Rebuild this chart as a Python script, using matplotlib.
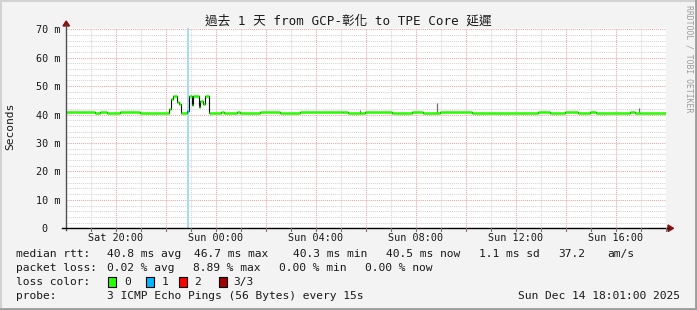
import matplotlib
matplotlib.use("Agg")
import matplotlib.pyplot as plt
from matplotlib.patches import Polygon, Rectangle
from matplotlib.lines import Line2D

W, H = 697, 310
MONO = "DejaVu Sans Mono"
TITLE_FONT = ["DejaVu Sans Mono", "Noto Sans CJK TC"]

# time axis in hours since Sat 18:00, graph covers 18:01 -> 18:01 next day
t_start = 1 / 60
t_end = 24 + 1 / 60

# median rtt (ms) as step segments: start hour, value, lost pings
seg_start = [0.02, 1.17, 1.37, 1.64, 2.17, 2.97, 4.12, 4.20, 4.28, 4.44, 4.52, 4.60,
             4.85, 4.93, 5.05, 5.10, 5.33, 5.37, 5.50, 5.58, 5.74, 6.20, 6.34, 6.85,
             6.97, 7.77, 8.57, 9.37, 11.10, 11.30, 11.77, 11.97, 13.04, 13.84, 14.30,
             14.97, 16.24, 18.90, 19.37, 19.97, 20.50, 20.97, 21.23, 22.57, 22.77, 22.97]
seg_rtt = [40.8, 40.5, 40.8, 40.5, 40.8, 40.5, 41.9, 45.6, 46.6, 44.6, 43.8, 40.5,
           41.3, 46.6, 43.4, 46.6, 42.8, 44.8, 43.6, 46.5, 40.5, 40.8, 40.5, 40.8,
           40.6, 40.8, 40.5, 40.8, 41.0, 40.5, 40.7, 40.8, 40.6, 40.8, 40.5,
           40.8, 40.5, 40.8, 40.5, 40.8, 40.5, 40.8, 40.5, 40.8, 40.5, 40.7]
seg_loss = [0, 0, 0, 0, 0, 0, 0, 0, 0, 0, 0, 0,
            1, 0, 0, 0, 0, 0, 0, 0, 0, 0, 0, 0,
            0, 0, 0, 0, 0, 0, 0, 0, 0, 0, 0,
            0, 0, 0, 0, 0, 0, 0, 0, 0, 0, 0]

# a few visible smoke spikes (max ping above the median)
smoke_t = [2.21, 11.77, 14.84, 21.10, 22.93]
smoke_lo = [40.8, 40.7, 40.5, 40.8, 40.5]
smoke_hi = [41.3, 41.5, 44.0, 41.3, 42.3]

loss_colors = ["#26ff00", "#00b8ff", "#ff0000", "#a00000"]
loss_labels = ["0", "1", "2", "3/3"]
loss_band_color = "#a6dcf6"

x_ticks = [2, 6, 10, 14, 18, 22]
x_labels = ["Sat 20:00", "Sun 00:00", "Sun 04:00", "Sun 08:00", "Sun 12:00", "Sun 16:00"]
y_ticks = [0, 10, 20, 30, 40, 50, 60, 70]
y_labels = ["0  ", "10 m", "20 m", "30 m", "40 m", "50 m", "60 m", "70 m"]

title = "過去 1 天 from GCP-彰化 to TPE Core 延遲"
rtt_row = [(16, "median rtt:"), (107, "40.8 ms avg"), (194, "46.7 ms max"),
           (293, "40.3 ms min"), (386, "40.5 ms now"), (479, "1.1 ms sd"),
           (558, "37.2"), (607, "am/s")]
loss_row = [(16, "packet loss:"), (107, "0.02 % avg"), (193, "8.89 % max"),
            (279, "0.00 % min"), (365, "0.00 % now")]
box_x = [108, 146, 179, 219]
box_label_x = [124, 162, 194, 233]
probe_text = "3 ICMP Echo Pings (56 Bytes) every 15s"
stamp = "Sun Dec 14 18:01:00 2025"


def fx(x):
    return x / W


def fy(y):
    return 1 - y / H


fig = plt.figure(figsize=(W / 100, H / 100), dpi=100, facecolor="#f3f3f3")

# 3d-ish frame around the canvas
fig.add_artist(Line2D([0, 1], [fy(1), fy(1)], color="#d2d2d2", lw=1.5))
fig.add_artist(Line2D([fx(1), fx(1)], [0, 1], color="#d2d2d2", lw=1.5))
fig.add_artist(Line2D([0, 1], [fy(309), fy(309)], color="#9c9c9c", lw=2))
fig.add_artist(Line2D([fx(696), fx(696)], [0, 1], color="#9c9c9c", lw=2))

x0, x1, ybot, ytop = 66.1, 666.1, 228.3, 28.3
ax = fig.add_axes([fx(x0), fy(ybot), (x1 - x0) / W, (ybot - ytop) / H])
ax.set_facecolor("white")
ax.set_xlim(t_start, t_end)
ax.set_ylim(0, 70.35)
for s in ax.spines.values():
    s.set_visible(False)

# grid: 1h / 2ms minor in gray, 2h / 10ms major in pink
dot = (0, (1, 1))
for h in range(1, 25):
    col = "#e8a4a4" if h % 2 == 0 else "#d4d4d4"
    ax.axvline(h, color=col, lw=0.75, ls=dot, zorder=1)
for v in range(2, 71, 2):
    col = "#e8a4a4" if v % 10 == 0 else "#d4d4d4"
    ax.axhline(v, color=col, lw=0.75, ls=dot, zorder=1)

# loss band
for i, loss in enumerate(seg_loss):
    if loss > 0:
        ax.axvspan(seg_start[i], seg_start[i + 1], color=loss_band_color, lw=0, zorder=2)

# smoke
ax.vlines(smoke_t, smoke_lo, smoke_hi, color="#6e6e6e", lw=0.9, zorder=3)

# median: black step transitions, coloured horizontal parts
ends = seg_start[1:] + [t_end]
ax.step(seg_start + [t_end], seg_rtt + [seg_rtt[-1]], where="post", color="#111111", lw=0.8, zorder=3)
for s0, s1, v, loss in zip(seg_start, ends, seg_rtt, seg_loss):
    ax.hlines(v, s0, s1, color=loss_colors[loss], lw=1.8, zorder=4)

ax.set_xticks(x_ticks, x_labels)
ax.set_yticks(y_ticks, y_labels)
ax.tick_params(axis="x", length=0, pad=3.5, labelsize=7.3, labelcolor="#1a1a1a")
ax.tick_params(axis="y", length=0, pad=4.2, labelsize=7.3, labelcolor="#1a1a1a")
for lab in ax.get_xticklabels() + ax.get_yticklabels():
    lab.set_family(MONO)

# axis lines with arrows
fig.add_artist(Line2D([fx(x0), fx(x0)], [fy(ybot + 2), fy(25)], color="#505050", lw=1))
fig.add_artist(Line2D([fx(62), fx(668)], [fy(ybot), fy(ybot)], color="#000000", lw=1))
fig.add_artist(Polygon([(fx(63), fy(26)), (fx(69.5), fy(26)), (fx(66.2), fy(21))],
                       closed=True, color="#8b1010"))
fig.add_artist(Polygon([(fx(668), fy(225)), (fx(668), fy(231.5)), (fx(673.5), fy(228.3))],
                       closed=True, color="#8b1010"))
for h in range(1, 25):
    xp = x0 + (h - t_start) * 25
    fig.add_artist(Line2D([fx(xp), fx(xp)], [fy(ybot), fy(ybot + 2.5)], color="#777777", lw=0.8))

fig.text(fx(348.5), fy(21.5), title, ha="center", va="center", fontsize=9.1,
         family=TITLE_FONT, color="#1a1a1a")
fig.text(fx(10), fy(126), "Seconds", rotation=90, ha="center", va="center",
         fontsize=8.1, family=MONO, color="#1a1a1a")
fig.text(fx(688.5), fy(59), "RRDTOOL / TOBI OETIKER", rotation=270, ha="center",
         va="center", fontsize=5.9, family=MONO, color="#9c9c9c")

fs = 8.1
for x, txt in rtt_row:
    fig.text(fx(x), fy(254), txt, ha="left", va="center", fontsize=fs, family=MONO, color="#1a1a1a")
for x, txt in loss_row:
    fig.text(fx(x), fy(268.3), txt, ha="left", va="center", fontsize=fs, family=MONO, color="#1a1a1a")
fig.text(fx(16), fy(282), "loss color:", ha="left", va="center", fontsize=fs, family=MONO, color="#1a1a1a")
for bx, lx, col, lab in zip(box_x, box_label_x, loss_colors, loss_labels):
    fig.add_artist(Rectangle((fx(bx), fy(287)), 8 / W, 10 / H, facecolor=col,
                             edgecolor="black", lw=0.8))
    fig.text(fx(lx), fy(282), lab, ha="left", va="center", fontsize=fs, family=MONO, color="#1a1a1a")
fig.text(fx(16), fy(296.3), "probe:", ha="left", va="center", fontsize=fs, family=MONO, color="#1a1a1a")
fig.text(fx(107), fy(296.3), probe_text, ha="left", va="center", fontsize=fs, family=MONO, color="#1a1a1a")
fig.text(fx(680), fy(296.3), stamp, ha="right", va="center", fontsize=fs, family=MONO, color="#1a1a1a")

fig.savefig("out.png", dpi=100, facecolor=fig.get_facecolor())
